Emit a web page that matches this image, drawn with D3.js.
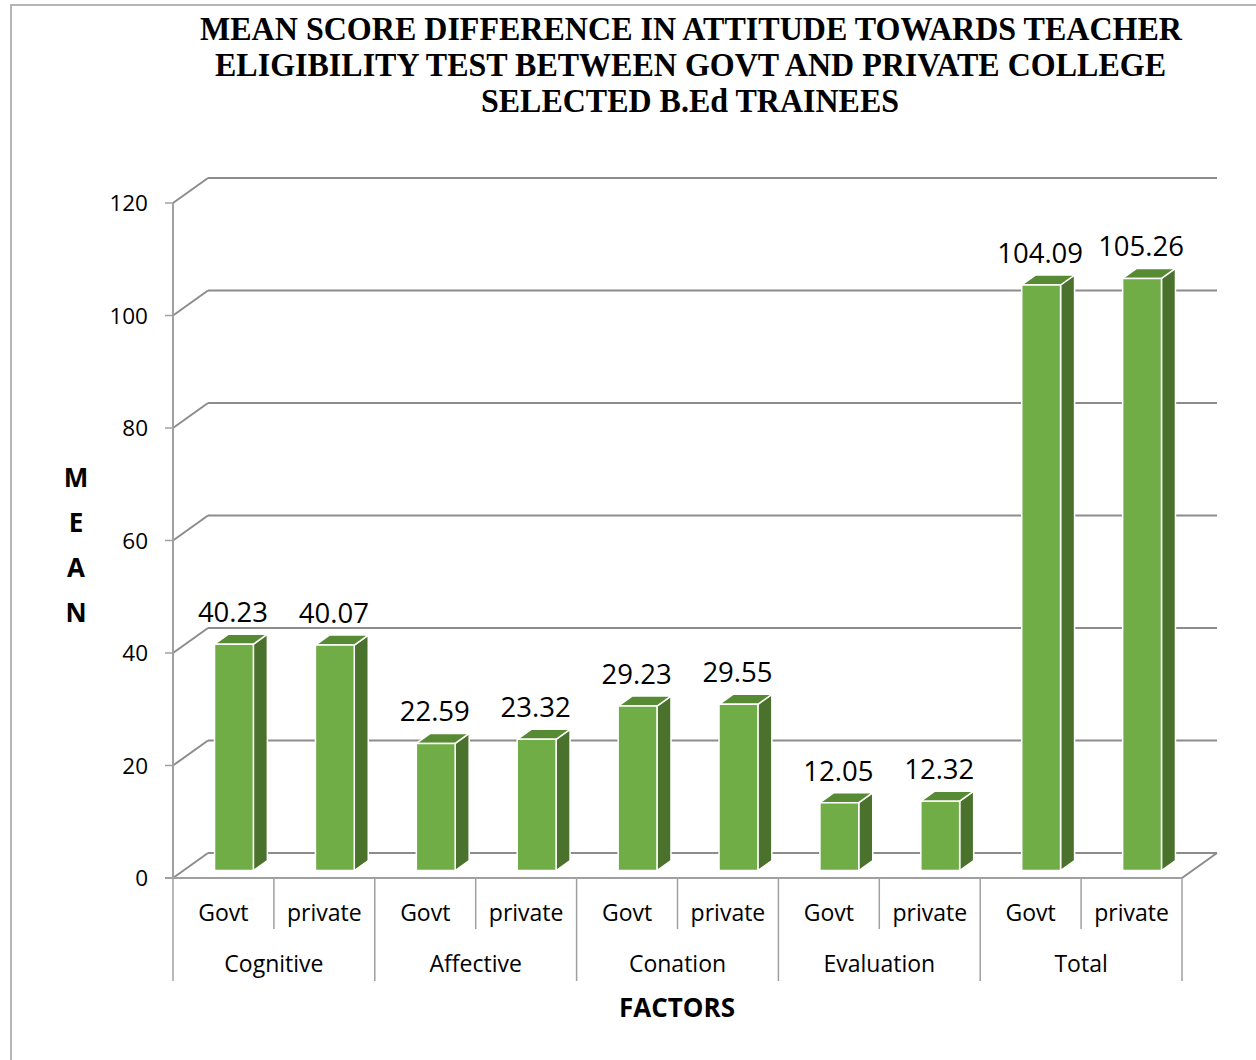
<!DOCTYPE html>
<html>
<head>
<meta charset="utf-8">
<script src="https://cdn.jsdelivr.net/npm/d3@7"></script>
<style>
  html, body { margin: 0; padding: 0; background: #fff; }
  svg { display: block; }
</style>
</head>
<body>
<svg id="chart" width="1256" height="1060"></svg>
<script>
// ---- data ----
const groups = ["Cognitive", "Affective", "Conation", "Evaluation", "Total"];
const subgroups = ["Govt", "private"];
const govtValues = [40.23, 22.59, 29.23, 12.05, 104.09];
const privateValues = [40.07, 23.32, 29.55, 12.32, 105.26];
const valueLabels = [["40.23", "40.07"], ["22.59", "23.32"], ["29.23", "29.55"], ["12.05", "12.32"], ["104.09", "105.26"]];
const yTicks = [0, 20, 40, 60, 80, 100, 120];
const titleLines = [
  "MEAN SCORE DIFFERENCE IN ATTITUDE TOWARDS TEACHER",
  "ELIGIBILITY TEST BETWEEN GOVT AND PRIVATE COLLEGE",
  "SELECTED B.Ed TRAINEES"
];
const yTitle = ["M", "E", "A", "N"];
const xTitle = "FACTORS";

// ---- layout ----
const svg = d3.select("#chart");
const left = 173, right = 1182;
const DX = 35, DY = 25;          // 3D depth offset
const y = d3.scaleLinear().domain([0, 120]).range([878, 203]);
const gx = d3.scaleBand().domain(groups).range([left, right]);
const sx = d3.scaleBand().domain(subgroups).range([0, gx.bandwidth()]);
const font = "'Open Sans', sans-serif";
const gridCol = "#8c8c8c";

// border
svg.append("path").attr("d", "M11,1060 V5 H1256").attr("fill", "none")
  .attr("stroke", "#b5b5b5").attr("stroke-width", 2);

// title
const titleGeom = [[200, 1182, 40], [215, 1166, 76], [481, 899, 112]];
titleLines.forEach((t, i) => {
  const g = titleGeom[i];
  svg.append("text").attr("x", g[0]).attr("y", g[2])
    .attr("textLength", g[1] - g[0]).attr("lengthAdjust", "spacingAndGlyphs")
    .attr("font-family", "'Liberation Serif', 'Times New Roman', serif")
    .attr("font-weight", "bold").attr("font-size", 33).attr("fill", "#000").text(t);
});

// gridlines (back wall) + left wall diagonals
yTicks.forEach(t => {
  svg.append("line").attr("x1", left + DX).attr("x2", right + DX)
    .attr("y1", y(t) - DY).attr("y2", y(t) - DY)
    .attr("stroke", gridCol).attr("stroke-width", 2);
  svg.append("line").attr("x1", left).attr("y1", y(t))
    .attr("x2", left + DX).attr("y2", y(t) - DY)
    .attr("stroke", gridCol).attr("stroke-width", 2);
  svg.append("line").attr("x1", left - 8).attr("x2", left)
    .attr("y1", y(t)).attr("y2", y(t)).attr("stroke", "#a0a0a0").attr("stroke-width", 1.5);
  svg.append("text").attr("x", 148).attr("y", y(t)).attr("dy", "0.36em")
    .attr("text-anchor", "end").attr("font-family", font).attr("font-size", 22.5)
    .attr("fill", "#000").text(t);
});

// floor right diagonal
svg.append("line").attr("x1", right).attr("y1", y(0)).attr("x2", right + DX).attr("y2", y(0) - DY)
  .attr("stroke", gridCol).attr("stroke-width", 2);
// y axis line
svg.append("line").attr("x1", left).attr("x2", left).attr("y1", y(120)).attr("y2", y(0))
  .attr("stroke", "#a0a0a0").attr("stroke-width", 2);
// x axis line
svg.append("line").attr("x1", left - 8).attr("x2", right).attr("y1", y(0)).attr("y2", y(0))
  .attr("stroke", "#a0a0a0").attr("stroke-width", 2);

// bars
const barFrac = 0.385;
const d0 = 0.3, d1 = 0.7;
const frontCol = "#70ad47", sideCol = "#4a722c", topCol = "#568b33";
groups.forEach((g, gi) => {
  [govtValues[gi], privateValues[gi]].forEach((v, si) => {
    const cx = gx(g) + sx(subgroups[si]) + sx.bandwidth() / 2;
    const w = sx.bandwidth() * barFrac;
    const x0 = cx - w / 2 + d0 * DX, x1 = x0 + w;
    const yb = y(0) - d0 * DY, yt = y(v) - d0 * DY;
    const ddx = (d1 - d0) * DX, ddy = (d1 - d0) * DY;
    const bg = svg.append("g").attr("stroke", "#fff").attr("stroke-width", 1.5).attr("stroke-linejoin", "round");
    bg.append("path").attr("fill", sideCol)
      .attr("d", `M${x1},${yt} L${x1 + ddx},${yt - ddy} L${x1 + ddx},${yb - ddy} L${x1},${yb} Z`);
    bg.append("path").attr("fill", topCol)
      .attr("d", `M${x0},${yt} L${x0 + ddx},${yt - ddy} L${x1 + ddx},${yt - ddy} L${x1},${yt} Z`);
    bg.append("rect").attr("fill", frontCol).attr("x", x0).attr("y", yt).attr("width", w).attr("height", yb - yt);
    svg.append("text").attr("x", x0 + w / 2 - 1).attr("y", yt - ddy - 12)
      .attr("text-anchor", "middle").attr("font-family", font).attr("font-size", 27.5)
      .attr("fill", "#000").text(valueLabels[gi][si]);
  });
});

// category axis (multi-level)
const lineCol = "#a0a0a0";
groups.forEach((g, gi) => {
  const gx0 = gx(g);
  svg.append("line").attr("x1", gx0).attr("x2", gx0).attr("y1", y(0)).attr("y2", 981)
    .attr("stroke", lineCol).attr("stroke-width", 1.5);
  svg.append("line").attr("x1", gx0 + sx("private")).attr("x2", gx0 + sx("private"))
    .attr("y1", y(0)).attr("y2", 929).attr("stroke", lineCol).attr("stroke-width", 1.5);
  subgroups.forEach(s => {
    svg.append("text").attr("x", gx0 + sx(s) + sx.bandwidth() / 2).attr("y", 921)
      .attr("text-anchor", "middle").attr("font-family", font).attr("font-size", 23)
      .attr("fill", "#000").text(s);
  });
  svg.append("text").attr("x", gx0 + gx.bandwidth() / 2).attr("y", 972)
    .attr("text-anchor", "middle").attr("font-family", font).attr("font-size", 23)
    .attr("fill", "#000").text(g);
});
svg.append("line").attr("x1", right).attr("x2", right).attr("y1", y(0)).attr("y2", 981)
  .attr("stroke", lineCol).attr("stroke-width", 1.5);

// axis titles
yTitle.forEach((c, i) => {
  svg.append("text").attr("x", 76).attr("y", 487 + i * 45).attr("text-anchor", "middle")
    .attr("font-family", font).attr("font-weight", "bold").attr("font-size", 26)
    .attr("fill", "#000").text(c);
});
svg.append("text").attr("x", 677).attr("y", 1017).attr("text-anchor", "middle")
  .attr("font-family", font).attr("font-weight", "bold").attr("font-size", 26)
  .attr("fill", "#000").text(xTitle);
</script>
</body>
</html>
